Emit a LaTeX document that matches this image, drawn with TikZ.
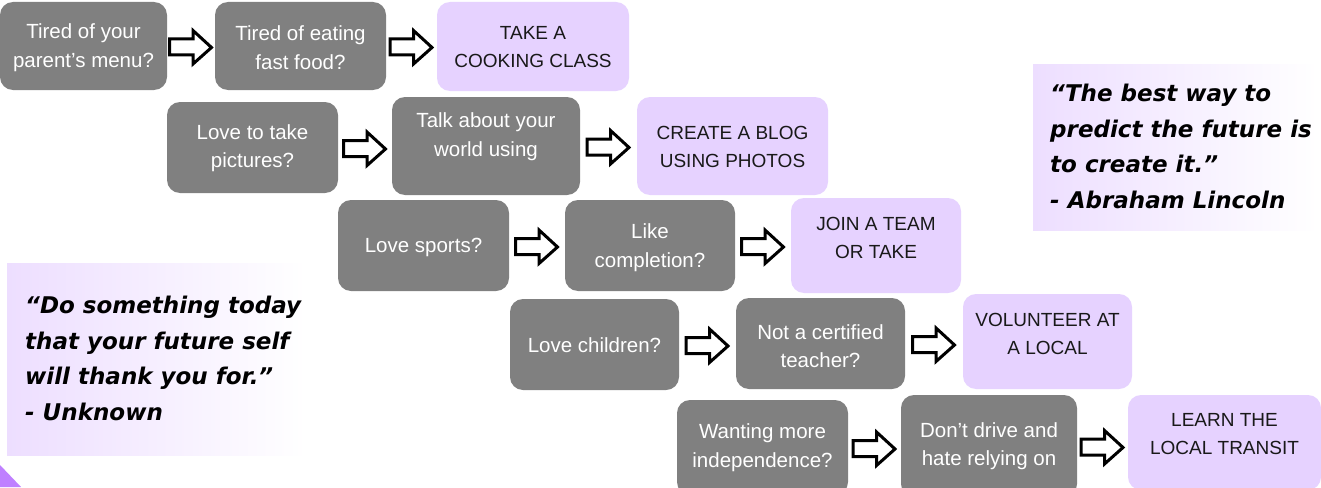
\documentclass[tikz,border=0pt]{standalone}
\usepackage{fontspec}
\usetikzlibrary{calc}
\newfontfamily\boxfont{Liberation Sans}
\newfontfamily\quotefont{DejaVu Sans}
\definecolor{gboxc}{HTML}{808080}
\definecolor{pboxc}{HTML}{E6D2FF}
\definecolor{qpurple}{HTML}{EDDEFF}
\definecolor{tric}{HTML}{BF80FF}
\tikzset{
  x=1pt, y=-1pt,
  gbox/.style={draw=none, fill=gboxc, rounded corners=13pt, inner sep=0pt},
  pbox/.style={draw=none, fill=pboxc, rounded corners=13pt, inner sep=0pt},
  gtext/.style={text=white, align=center, inner sep=0pt, font=\boxfont\fontsize{20.5}{28.5}\selectfont},
  ptext/.style={text=black!90, align=center, inner sep=0pt, font=\boxfont\fontsize{19}{28}\selectfont},
  qtext/.style={text=black, align=left, inner sep=0pt, anchor=north west,
    font=\quotefont\bfseries\itshape\fontsize{23}{35.5}\selectfont},
  blockarrow/.style={draw=black, fill=white, line width=3pt, line join=miter, miter limit=10,
    to path={
      ($(\tikztostart)!.5!(\tikztotarget)+(-21.5,9)$) --
      ($(\tikztostart)!.5!(\tikztotarget)+(2,9)$) --
      ($(\tikztostart)!.5!(\tikztotarget)+(2,18)$) --
      ($(\tikztostart)!.5!(\tikztotarget)+(20.5,1.5)$) --
      ($(\tikztostart)!.5!(\tikztotarget)+(2,-15.5)$) --
      ($(\tikztostart)!.5!(\tikztotarget)+(2,-7)$) --
      ($(\tikztostart)!.5!(\tikztotarget)+(-21.5,-7)$) -- cycle}}
}
\begin{document}
\begin{tikzpicture}
\useasboundingbox (0,0) rectangle (1321,487);
\clip (0,0) rectangle (1321,487);
\fill[white] (0,0) rectangle (1321,487);

% quote boxes
\shade[left color=qpurple, right color=white] (1033,64) rectangle (1318,230);
\shade[left color=qpurple, right color=white] (7,263) rectangle (306,455);
\node[qtext] (q1) at (1050,84) {“The best way to\\predict the future is\\to create it.”\\- Abraham Lincoln};
\node[qtext] (q2) at (25,296) {“Do something today\\that your future self\\will thank you for.”\\- Unknown};

% corner triangle
\fill[tric] (0,465) -- (0,487) -- (21,487) -- cycle;

% row 1
\node[gbox, minimum width=167pt, minimum height=88pt] (b1) at (83.5,46) {};
\node[gtext] (t1) at (83.5,47.5) {Tired of your\\parent’s menu?};
\node[gbox, minimum width=171pt, minimum height=88pt] (b2) at (300.5,46) {};
\node[gtext] (t2) at (300.5,47.5) {Tired of eating\\fast food?};
\node[pbox, minimum width=192pt, minimum height=89pt] (b3) at (533,46.5) {};
\node[ptext] (t3) at (533,47.5) {TAKE A\\COOKING CLASS};
% row 2
\node[gbox, minimum width=171pt, minimum height=91pt] (b4) at (252.5,147.5) {};
\node[gtext] (t4) at (252.5,148) {Love to take\\pictures?};
\node[gbox, minimum width=188pt, minimum height=98pt] (b5) at (486,146) {};
\node[gtext] (t5) at (486,136.5) {Talk about your\\world using};
\node[pbox, minimum width=191pt, minimum height=98pt] (b6) at (732.5,146) {};
\node[ptext] (t6) at (732.5,146.5) {CREATE A BLOG\\USING PHOTOS};
% row 3
\node[gbox, minimum width=171pt, minimum height=91pt] (b7) at (423.5,245.5) {};
\node[gtext] (t7) at (423.5,247) {Love sports?};
\node[gbox, minimum width=170pt, minimum height=91pt] (b8) at (650,245.5) {};
\node[gtext] (t8) at (650,247.5) {Like\\completion?};
\node[pbox, minimum width=170pt, minimum height=95pt] (b9) at (876,245.5) {};
\node[ptext] (t9) at (876,237.5) {JOIN A TEAM\\OR TAKE};
% row 4
\node[gbox, minimum width=169pt, minimum height=91pt] (b10) at (594.5,344.5) {};
\node[gtext] (t10) at (594.5,345) {Love children?};
\node[gbox, minimum width=169pt, minimum height=91pt] (b11) at (820.5,343.5) {};
\node[gtext] (t11) at (820.5,346) {Not a certified\\teacher?};
\node[pbox, minimum width=169pt, minimum height=95pt] (b12) at (1047.5,341.5) {};
\node[ptext] (t12) at (1047.5,334) {VOLUNTEER AT\\A LOCAL};
% row 5
\node[gbox, minimum width=171pt, minimum height=95pt] (b13) at (762.5,447.5) {};
\node[gtext] (t13) at (762.5,447.5) {Wanting more\\independence?};
\node[gbox, minimum width=176pt, minimum height=102pt] (b14) at (989,446) {};
\node[gtext] (t14) at (989,446) {Don’t drive and\\hate relying on};
\node[pbox, minimum width=193pt, minimum height=95pt] (b15) at (1224.5,442.5) {};
\node[ptext] (t15) at (1224.5,434) {LEARN THE\\LOCAL TRANSIT};

% arrows
\draw[blockarrow] (b1.east) to (b1.east -| b2.west);
\draw[blockarrow] (b2.east) to (b2.east -| b3.west);
\draw[blockarrow] (b4.east) to (b4.east -| b5.west);
\draw[blockarrow] (b5.east) to (b5.east -| b6.west);
\draw[blockarrow] (b7.east) to (b7.east -| b8.west);
\draw[blockarrow] (b8.east) to (b8.east -| b9.west);
\draw[blockarrow] (b10.east) to (b10.east -| b11.west);
\draw[blockarrow] (b11.east) to (b11.east -| b12.west);
\draw[blockarrow] (b13.east) to (b13.east -| b14.west);
\draw[blockarrow] (b14.east) to (b14.east -| b15.west);
\end{tikzpicture}
\end{document}
